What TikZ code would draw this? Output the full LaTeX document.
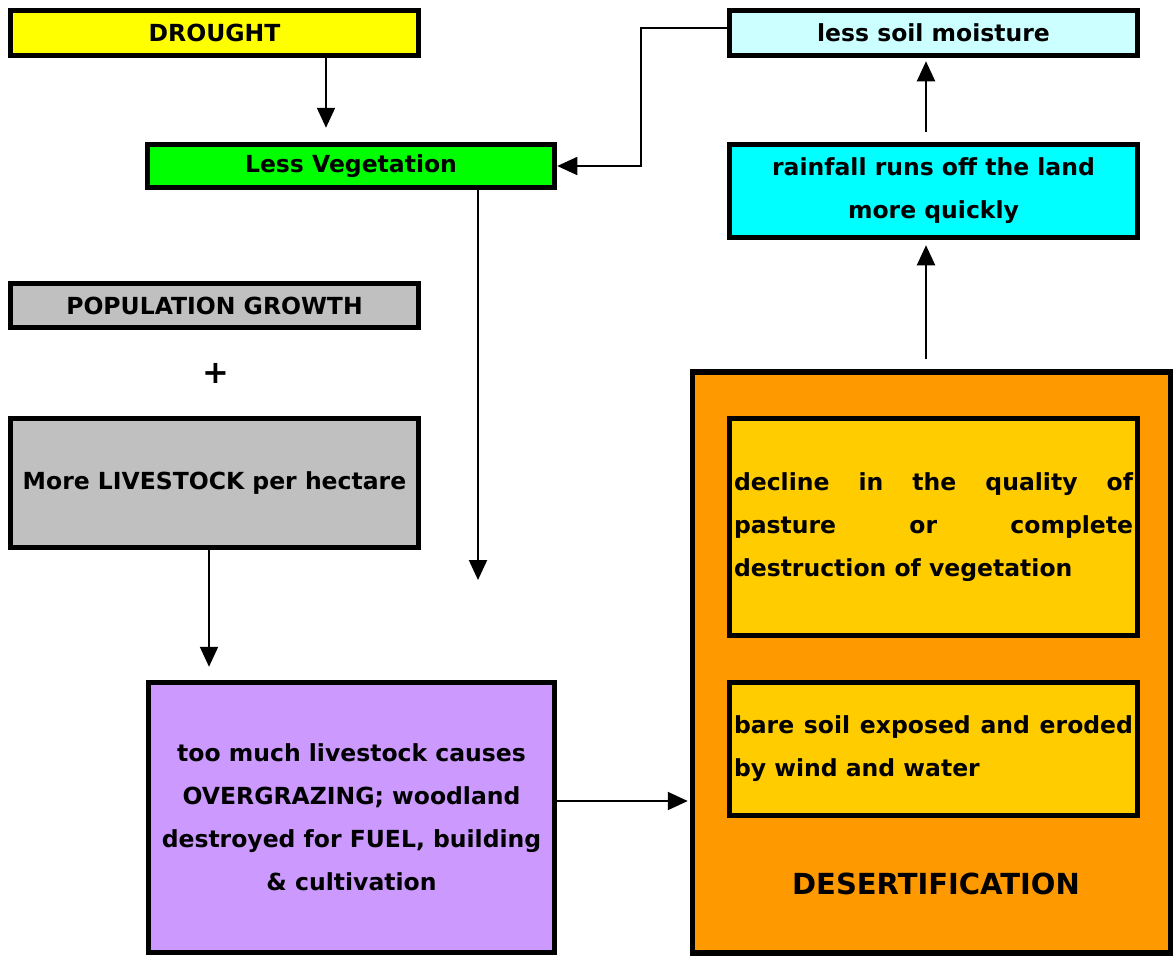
\documentclass[tikz,border=0pt]{standalone}
\usepackage{fontspec}
\setmainfont{DejaVu Sans}
\usetikzlibrary{arrows.meta,calc}
\definecolor{cYellow}{HTML}{FFFF00}
\definecolor{cGreen}{HTML}{00FF00}
\definecolor{cPale}{HTML}{CCFFFF}
\definecolor{cCyan}{HTML}{00FFFF}
\definecolor{cGray}{HTML}{C0C0C0}
\definecolor{cPurple}{HTML}{CC99FF}
\definecolor{cOrange}{HTML}{FF9900}
\definecolor{cGold}{HTML}{FFCC00}
\begin{document}
\begin{tikzpicture}[x=1pt,y=-1pt,
  box/.style={draw, line width=5.5pt, inner sep=0pt, align=center,
    font=\bfseries\fontsize{23.5}{43}\selectfont},
  jbox/.style={box, text width=399pt, align=justify},
  arr/.style={-{Triangle[length=20pt,width=18pt]}, line width=2pt},
  thin/.style={-{Triangle[length=20pt,width=18pt]}, line width=1.6pt}]
\useasboundingbox (0,0) rectangle (1174,956);
% nodes
\node[box, fill=cYellow, minimum width=408pt, minimum height=45pt] (drought) at (214.5,33) {DROUGHT};
\node[box, fill=cGreen, minimum width=407pt, minimum height=43pt] (veg) at (351,166) {Less Vegetation};
\node[box, fill=cPale, minimum width=408pt, minimum height=45pt] (soil) at (933.5,33) {less soil moisture};
\node[box, fill=cCyan, minimum width=408pt, minimum height=93pt] (rain) at (933.5,191) {rainfall runs off the land\\more quickly};
\node[box, fill=cGray, minimum width=408pt, minimum height=44pt] (pop) at (214.5,305.5) {POPULATION GROWTH};
\node[font=\bfseries\fontsize{32}{40}\selectfont, inner sep=0pt] (plus) at (216,373) {+};
\node[box, fill=cGray, minimum width=408pt, minimum height=129pt] (live) at (214.5,483) {More LIVESTOCK per hectare};
\node[box, fill=cPurple, minimum width=406pt, minimum height=270pt] (over) at (351.5,817.5) {too much livestock causes\\OVERGRAZING; woodland\\destroyed for FUEL, building\\\& cultivation};
\node[draw, line width=5.5pt, fill=cOrange, minimum width=478pt, minimum height=581pt, inner sep=0pt] (desert) at (931.5,662.5) {};
\node[jbox, fill=cGold, minimum width=408pt, minimum height=217pt] (decline) at (933.5,527) {\hyphenpenalty=10000 decline in the quality of\linebreak pasture or complete\linebreak destruction of vegetation};
\node[jbox, fill=cGold, minimum width=408pt, minimum height=133pt] (bare) at (933.5,749) {\hyphenpenalty=10000 bare soil exposed and eroded\linebreak by wind and water};
\node[font=\bfseries\fontsize{29}{40}\selectfont, inner sep=0pt] (deslabel) at (936,884) {DESERTIFICATION};
% helper coordinates
\coordinate (xa) at (326,0);
\coordinate (xb) at (478,0);
\coordinate (vegend) at (478,580);
\coordinate (xc) at (209,0);
\coordinate (yd) at (0,801);
\coordinate (xe) at (926,0);
\coordinate (bend) at (641,0);
\coordinate (ys) at (0,28);
% connectors
\draw[arr] (drought.south -| xa) -- ([yshift=14pt]veg.north -| xa);
\draw[arr] (veg.south -| xb) -- (vegend);
\draw[arr] (live.south -| xc) -- ([yshift=13pt]over.north -| xc);
\draw[arr] (over.east |- yd) -- ([xshift=-2pt]desert.west |- yd);
\draw[arr] ([yshift=10pt]desert.north -| xe) -- ([yshift=-5pt]rain.south -| xe);
\draw[arr] ([yshift=10pt]rain.north -| xe) -- ([yshift=-3pt]soil.south -| xe);
\draw[thin] (soil.west |- ys) -| (bend |- veg.east) -- (veg.east);
\end{tikzpicture}
\end{document}
